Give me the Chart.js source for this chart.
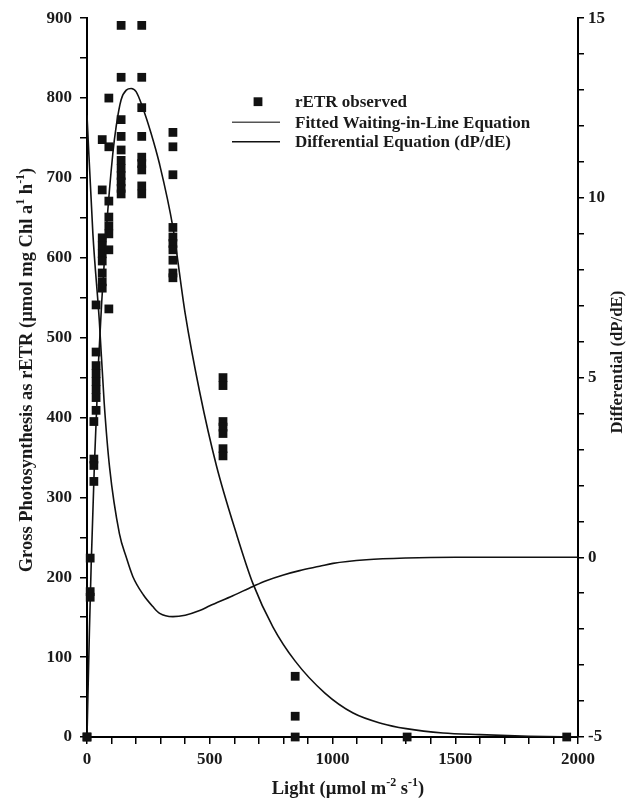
<!DOCTYPE html>
<html>
<head>
<meta charset="utf-8">
<script src="https://cdn.jsdelivr.net/npm/chart.js@4.4.1/dist/chart.umd.min.js"></script>
<style>
  html, body { margin: 0; padding: 0; background: #fff; }
  #wrap { width: 635px; height: 798px; }
</style>
</head>
<body>
<div id="wrap"><canvas id="chart" width="635" height="798"></canvas></div>
<script>
// observed rETR points (light, rETR)
const obsLight = [0, 0, 13, 13, 13, 28, 28, 28, 28,
  37, 37, 37, 37, 37, 37, 37, 37,
  62, 62, 62, 62, 62, 62, 62, 62, 62,
  89, 89, 89, 89, 89, 89, 89, 89,
  139, 139, 139, 139, 139, 139, 139, 139, 139, 139, 139,
  223, 223, 223, 223, 223, 223, 223, 223, 223,
  350, 350, 350, 350, 350, 350, 350, 350, 350, 350,
  554, 554, 554, 554, 554, 554, 554,
  848, 848, 848, 1304, 1954];
const obsRETR = [0, 0, 224, 182, 175, 395, 348, 340, 320,
  541, 482, 465, 455, 445, 435, 425, 409,
  748, 685, 625, 615, 605, 596, 581, 570, 562,
  800, 739, 671, 651, 640, 630, 610, 536,
  891, 826, 773, 752, 735, 722, 712, 703, 695, 687, 680,
  891, 826, 788, 752, 726, 718, 710, 690, 680,
  757, 739, 704, 638, 626, 618, 610, 597, 581, 575,
  450, 440, 395, 388, 380, 361, 352,
  76, 26, 0, 0, 0];

// fitted waiting-in-line curve
const fitLight = [0, 10, 17, 30, 47, 60, 80, 105, 119, 139, 160, 180, 200, 227, 260, 295,
  350, 400, 459, 527, 608, 676, 757, 848, 969, 1084, 1200, 1300, 1450, 1600, 1800, 2000];
const fitP = [0, 135, 215, 340, 470, 545, 640, 730, 765, 798, 810, 812, 808, 788, 757, 718,
  638, 530, 432, 340, 255, 192, 138, 95, 55, 30, 17, 10.5, 5, 3, 1, 0];

// differential dP/dE
const diffLight = [0, 24, 50, 70, 92, 132, 160, 187, 230, 268, 296, 350, 400, 459, 500, 594,
  676, 730, 800, 866, 948, 1002, 1138, 1300, 1500, 2000];
const diffVal = [12.3, 9.0, 6.6, 4.3, 2.5, 0.66, 0, -0.54, -1.05, -1.37, -1.56, -1.65, -1.61, -1.48, -1.35, -1.07,
  -0.81, -0.65, -0.49, -0.37, -0.25, -0.17, -0.07, -0.02, 0, 0];

const serif = "'Liberation Serif', 'Times New Roman', serif";
const tickFont = { family: serif, size: 17, weight: 'bold' };
const ink = '#1a1a1a';

const pairs = (xs, ys) => xs.map((x, i) => ({ x: x, y: ys[i] }));

// draws text with superscript parts, centred on (0,0) of the current transform
function richText(ctx, parts, size) {
  const supSize = Math.round(size * 0.65);
  let total = 0;
  parts.forEach(p => {
    ctx.font = 'bold ' + (p.sup ? supSize : size) + 'px ' + serif;
    p.w = ctx.measureText(p.t).width;
    total += p.w;
  });
  let x = -total / 2;
  ctx.textAlign = 'left';
  ctx.textBaseline = 'alphabetic';
  parts.forEach(p => {
    ctx.font = 'bold ' + (p.sup ? supSize : size) + 'px ' + serif;
    ctx.fillText(p.t, x, p.sup ? -size * 0.42 : 0);
    x += p.w;
  });
}

const decorations = {
  id: 'decorations',
  afterDraw(chart) {
    const ctx = chart.ctx;
    ctx.save();
    ctx.fillStyle = ink;

    // axis titles
    ctx.save();
    ctx.translate(32, 370);
    ctx.rotate(-Math.PI / 2);
    richText(ctx, [
      { t: 'Gross Photosynthesis as rETR (\u00b5mol mg Chl a' },
      { t: '1', sup: true },
      { t: ' h' },
      { t: '-1', sup: true },
      { t: ')' }
    ], 18.5);
    ctx.restore();

    ctx.save();
    ctx.translate(348, 794);
    richText(ctx, [
      { t: 'Light (\u00b5mol m' },
      { t: '-2', sup: true },
      { t: ' s' },
      { t: '-1', sup: true },
      { t: ')' }
    ], 18.5);
    ctx.restore();

    ctx.save();
    ctx.translate(622, 362);
    ctx.rotate(-Math.PI / 2);
    richText(ctx, [{ t: 'Differential (dP/dE)' }], 16.8);
    ctx.restore();

    // legend inside the plot
    const ds = chart.data.datasets;
    const lx = 295;
    const rows = [101.7, 122.3, 141.7];
    ctx.font = 'bold 17px ' + serif;
    ctx.textAlign = 'left';
    ctx.textBaseline = 'middle';
    ds.forEach((d, i) => {
      const y = rows[i];
      if (i === 0) {
        ctx.fillStyle = '#111';
        ctx.fillRect(258 - 4.4, y - 4.4, 8.8, 8.8);
      } else {
        ctx.strokeStyle = i === 1 ? '#555' : '#111';
        ctx.lineWidth = 1.4;
        ctx.beginPath();
        ctx.moveTo(232, y);
        ctx.lineTo(280, y);
        ctx.stroke();
      }
      ctx.fillStyle = ink;
      ctx.fillText(d.label, lx, y + 1);
    });
    ctx.restore();
  }
};

const axisCommon = {
  grid: { drawOnChartArea: false, drawTicks: true, tickLength: 7, color: '#000', lineWidth: 1.5 },
  border: { display: true, color: '#000', width: 2 }
};

new Chart(document.getElementById('chart'), {
  type: 'scatter',
  data: {
    datasets: [
      {
        label: 'rETR observed',
        data: pairs(obsLight, obsRETR),
        yAxisID: 'y',
        pointStyle: 'rect',
        pointRadius: 6.2,
        borderWidth: 0,
        backgroundColor: '#111',
        clip: false
      },
      {
        label: 'Fitted Waiting-in-Line Equation',
        data: pairs(fitLight, fitP),
        yAxisID: 'y',
        showLine: true,
        pointRadius: 0,
        borderColor: '#111',
        borderWidth: 1.6,
        cubicInterpolationMode: 'monotone'
      },
      {
        label: 'Differential Equation (dP/dE)',
        data: pairs(diffLight, diffVal),
        yAxisID: 'y2',
        showLine: true,
        pointRadius: 0,
        borderColor: '#111',
        borderWidth: 1.6,
        cubicInterpolationMode: 'monotone'
      }
    ]
  },
  options: {
    responsive: false,
    animation: false,
    devicePixelRatio: 1,
    layout: { padding: { top: 18, left: 0, right: 0, bottom: 0 } },
    plugins: { legend: { display: false }, tooltip: { enabled: false } },
    scales: {
      x: {
        type: 'linear',
        position: 'bottom',
        min: 0,
        max: 2000,
        ...axisCommon,
        ticks: {
          stepSize: 100,
          autoSkip: false,
          maxRotation: 0,
          padding: 5,
          color: ink,
          font: tickFont,
          callback: v => (v % 500 === 0 ? v : '')
        },
        afterFit: s => { s.height = 61; }
      },
      y: {
        position: 'left',
        min: 0,
        max: 900,
        ...axisCommon,
        ticks: {
          stepSize: 50,
          autoSkip: false,
          padding: 8,
          color: ink,
          font: tickFont,
          callback: v => (v % 100 === 0 ? v : '')
        },
        afterFit: s => { s.width = 87; }
      },
      y2: {
        position: 'right',
        min: -5,
        max: 15,
        ...axisCommon,
        grid: { drawOnChartArea: false, drawTicks: true, tickLength: 6, color: '#000', lineWidth: 1.5 },
        ticks: {
          stepSize: 1,
          autoSkip: false,
          padding: 4,
          color: ink,
          font: tickFont,
          callback: v => (v % 5 === 0 ? v : '')
        },
        afterFit: s => { s.width = 57; }
      }
    }
  },
  plugins: [decorations]
});
</script>
</body>
</html>
